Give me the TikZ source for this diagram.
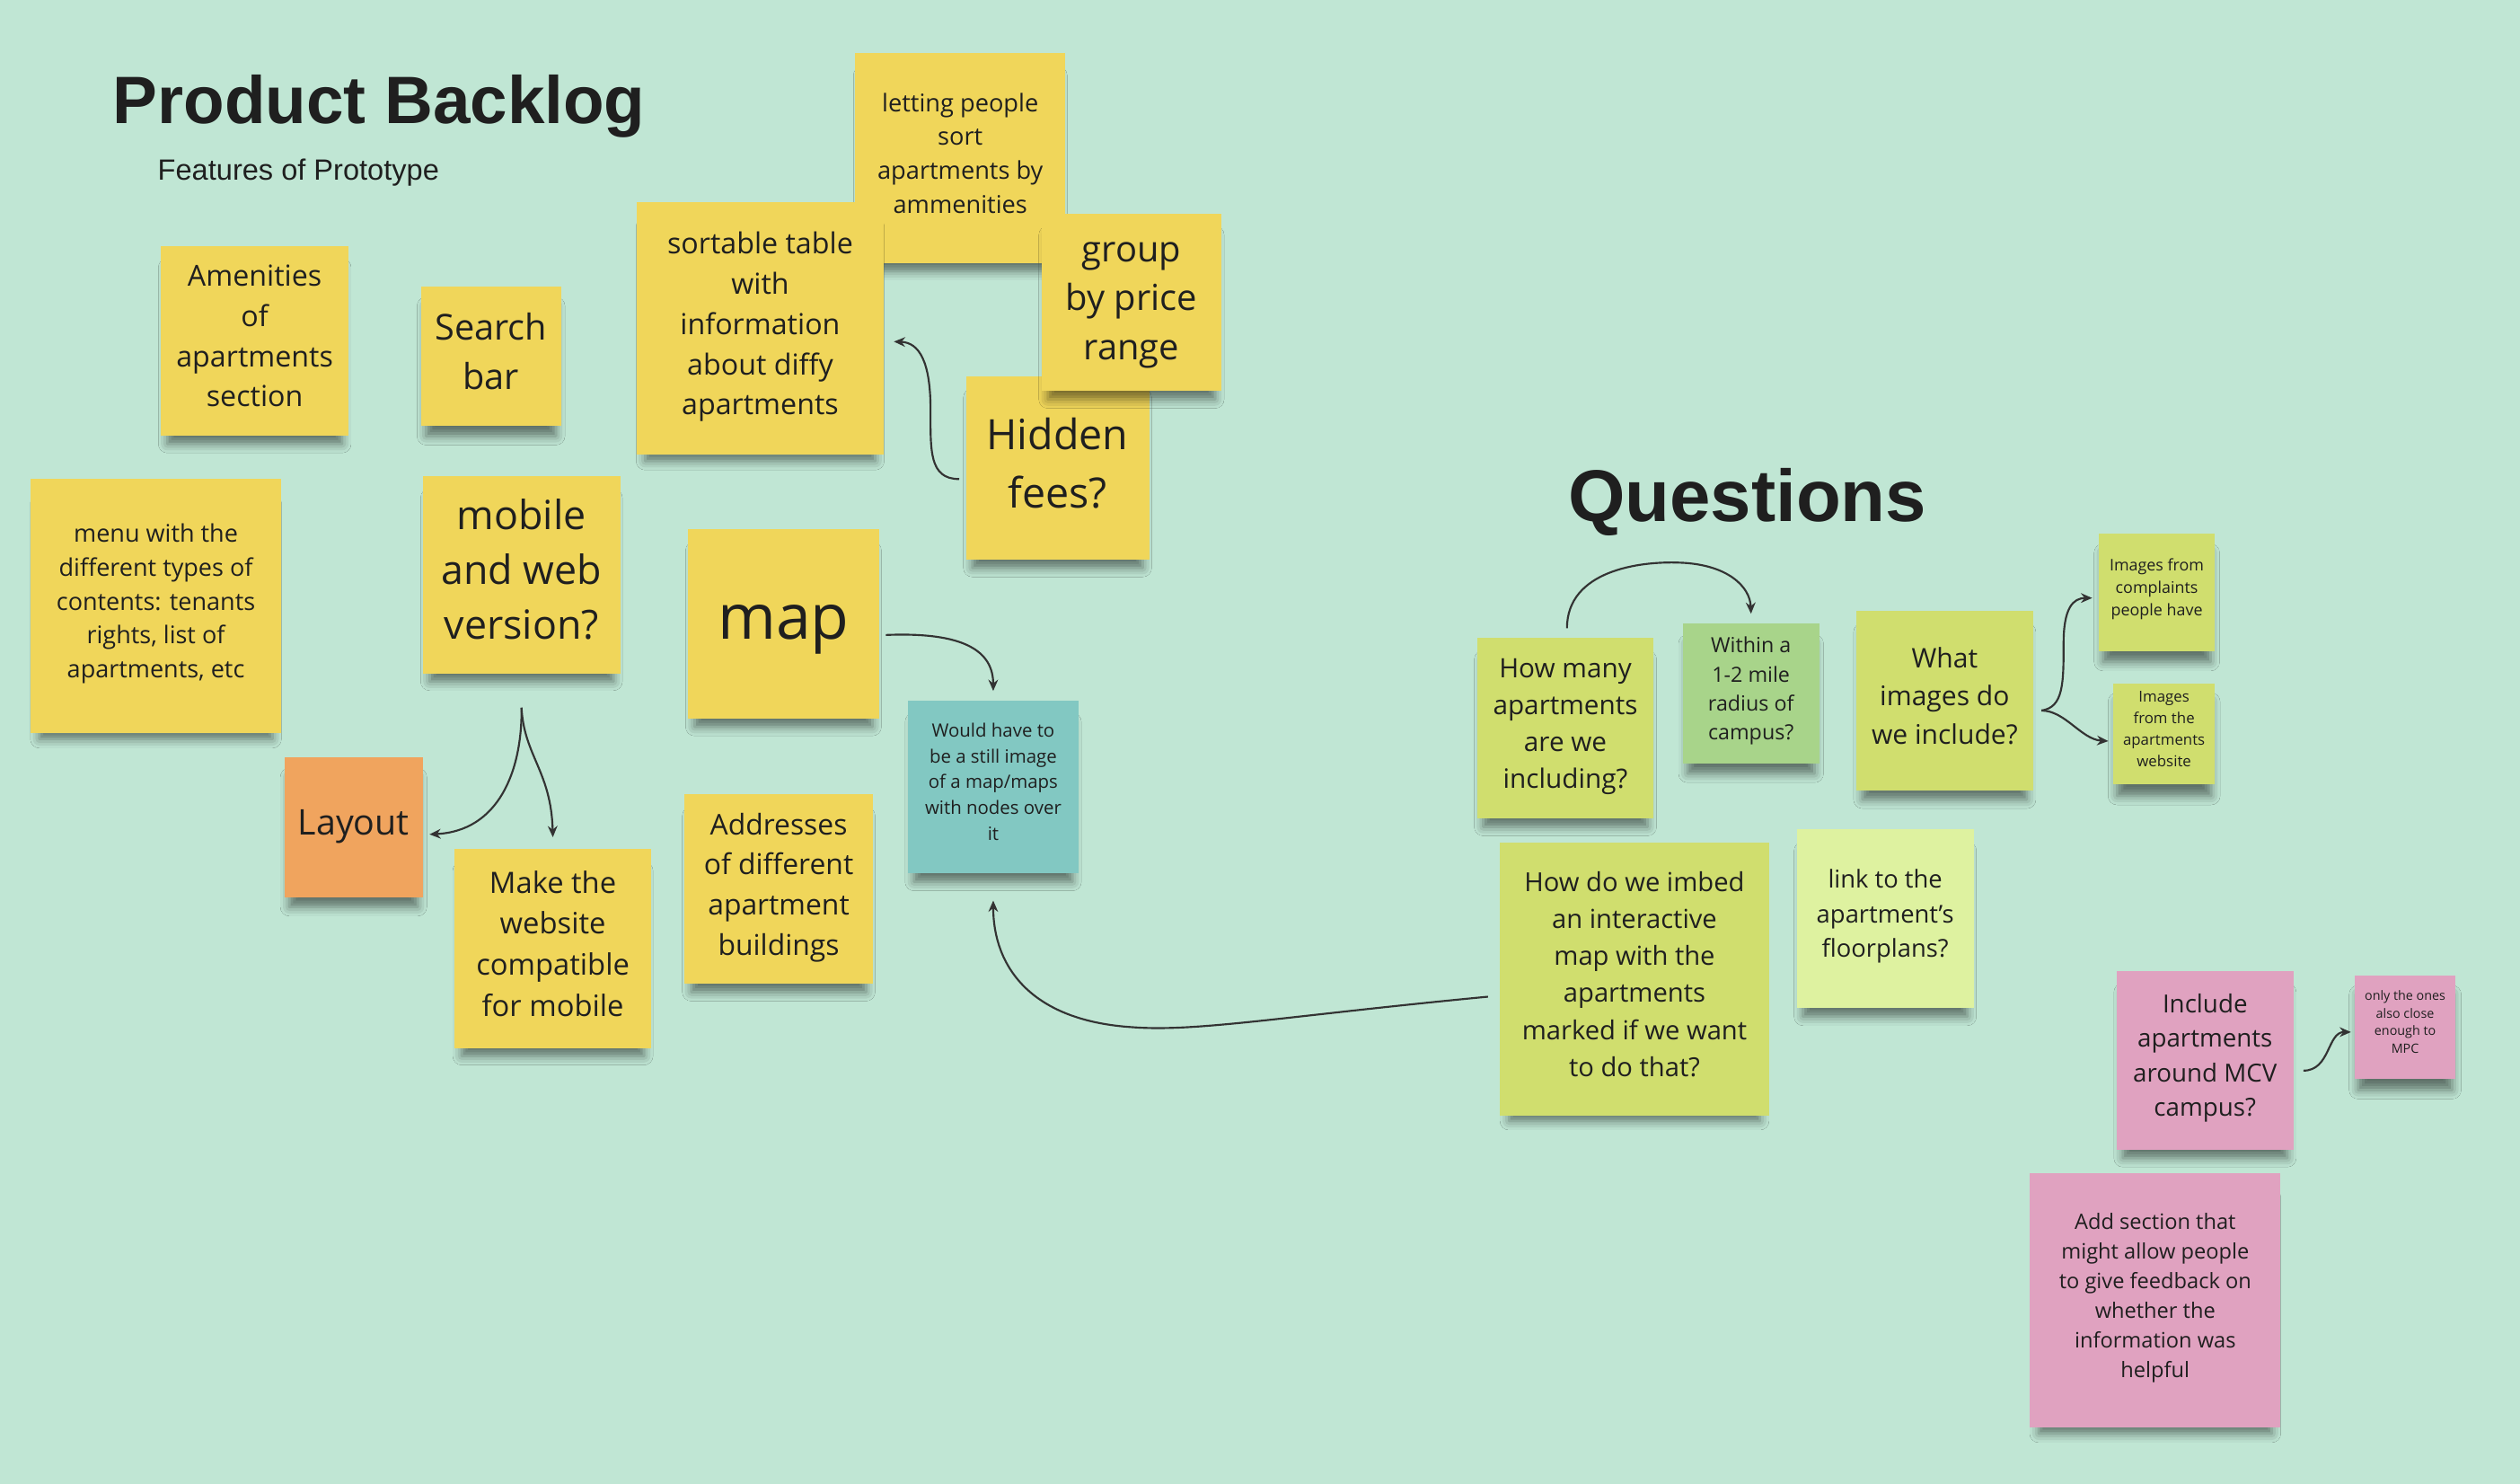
\documentclass[tikz,border=0pt]{standalone}
\usepackage{fontspec}
\setmainfont{Open Sans}
\newfontfamily\titlefont{Liberation Sans}
\usetikzlibrary{shadows.blur,arrows.meta,calc}
\definecolor{bg}{HTML}{C0E6D4}
\definecolor{ylw}{HTML}{F0D65A}
\definecolor{org}{HTML}{F0A45E}
\definecolor{teal}{HTML}{82C8C2}
\definecolor{lime}{HTML}{D0DE6E}
\definecolor{grn}{HTML}{A8D48A}
\definecolor{llime}{HTML}{DEF2A0}
\definecolor{pnk}{HTML}{E0A2C0}
\definecolor{txt}{HTML}{1F1F1F}
\definecolor{arr}{HTML}{333333}
\newcommand{\fsz}[2]{\fontsize{#1}{#2}\selectfont}
% struts giving each text block a uniform line box
\newcommand{\tS}{\rule{0pt}{0.785\baselineskip}}
\newcommand{\bS}{\rule[-\dimexpr0.215\baselineskip+7pt\relax]{0pt}{\dimexpr0.215\baselineskip+7pt\relax}}
\tikzset{
  note/.style={rectangle, inner sep=0pt, align=center, text=txt,
    blur shadow={shadow xshift=0pt, shadow yshift=-10pt, shadow opacity=50,
      shadow blur radius=6pt, shadow scale=0.93}},
  conn/.style={draw=arr, line width=1.2pt, -{Stealth[length=7pt,width=6pt]}}
}
\begin{document}
\begin{tikzpicture}[x=1pt,y=-1pt]
\fill[bg] (0,0) rectangle (1568,923);
\useasboundingbox (0,0) rectangle (1568,923);

% titles
\node[anchor=base west, inner sep=0pt, text=txt, font=\titlefont\bfseries\fsz{41.7}{48}] (ttl1) at (70,77) {Product Backlog};
\node[anchor=base west, inner sep=0pt, text=txt, font=\titlefont\fsz{18.2}{22}] (sub1) at (98,112) {Features of Prototype};
\node[anchor=base west, inner sep=0pt, text=txt, font=\titlefont\bfseries\fsz{45.6}{52}] (ttl2) at (975.5,324.5) {Questions};

% backlog notes
\node[note, fill=ylw, minimum width=131pt, minimum height=131pt, font=\fsz{15.2}{21}] (letting) at (597.5,98.5) {\tS letting people\\sort\\apartments by\\ammenities\bS};
\node[note, fill=ylw, minimum width=154pt, minimum height=157pt, font=\fsz{18}{25}] (sortable) at (473,204.5) {\tS sortable table\\with\\information\\about diffy\\apartments\bS};
\node[note, fill=ylw, minimum width=114pt, minimum height=114pt, font=\fsz{26}{36}] (hidden) at (658,291) {\tS Hidden\\fees?\bS};
\node[note, fill=ylw, minimum width=112pt, minimum height=110pt, font=\fsz{22.3}{30.5}] (group) at (704,188) {\tS group\\by price\\range\bS};
\node[note, fill=ylw, minimum width=117pt, minimum height=118pt, font=\fsz{18}{25}] (amen) at (158.5,212) {\tS Amenities\\of\\apartments\\section\bS};
\node[note, fill=ylw, minimum width=87pt, minimum height=87pt, font=\fsz{22.2}{31}] (search) at (305.5,221.5) {\tS Search\\bar\bS};
\node[note, fill=ylw, minimum width=156pt, minimum height=158pt, font=\fsz{15.1}{21}] (menu) at (97,377) {\tS menu with the\\different types of\\contents: tenants\\rights, list of\\apartments, etc\bS};
\node[note, fill=ylw, minimum width=123pt, minimum height=123pt, font=\fsz{25}{34}] (mobile) at (324.5,357.5) {\tS mobile\\and web\\version?\bS};
\node[note, fill=ylw, minimum width=119pt, minimum height=118pt, font=\fsz{39}{46}] (map) at (487.5,388) {\tS map\bS};
\node[note, fill=teal, minimum width=106pt, minimum height=107pt, font=\fsz{11.4}{16}] (still) at (618,489.5) {\tS Would have to\\be a still image\\of a map/maps\\with nodes over\\it\bS};
\node[note, fill=org, minimum width=86pt, minimum height=87pt, font=\fsz{22}{30}] (layout) at (220,514.5) {\tS Layout\bS};
\node[note, fill=ylw, minimum width=122pt, minimum height=124pt, font=\fsz{18.3}{25.5}] (make) at (344,590) {\tS Make the\\website\\compatible\\for mobile\bS};
\node[note, fill=ylw, minimum width=117pt, minimum height=118pt, font=\fsz{17.8}{25}] (addr) at (484.5,553) {\tS Addresses\\of different\\apartment\\buildings\bS};

% question notes
\node[note, fill=lime, minimum width=110pt, minimum height=112pt, font=\fsz{16.6}{23}] (howmany) at (974,453) {\tS How many\\apartments\\are we\\including?\bS};
\node[note, fill=grn, minimum width=85pt, minimum height=87pt, font=\fsz{13}{18}] (within) at (1089.5,431.5) {\tS Within a\\1-2 mile\\radius of\\campus?\bS};
\node[note, fill=lime, minimum width=110pt, minimum height=112pt, font=\fsz{16.8}{23.5}] (whatimg) at (1210,436) {\tS What\\images do\\we include?\bS};
\node[note, fill=lime, minimum width=72pt, minimum height=73pt, font=\fsz{10}{14}] (compl) at (1342,368.5) {\tS Images from\\complaints\\people have\bS};
\node[note, fill=lime, minimum width=63pt, minimum height=63pt, font=\fsz{9.4}{13.3}] (websi) at (1346.5,456.5) {\tS Images\\from the\\apartments\\website\bS};
\node[note, fill=lime, minimum width=168pt, minimum height=170pt, font=\fsz{16.3}{23}] (imbed) at (1017,609) {\tS How do we imbed\\an interactive\\map with the\\apartments\\marked if we want\\to do that?\bS};
\node[note, fill=llime, minimum width=110pt, minimum height=111pt, font=\fsz{15.3}{21.5}] (link) at (1173,571.5) {\tS link to the\\apartment's\\floorplans?\bS};
\node[note, fill=pnk, minimum width=110pt, minimum height=111pt, font=\fsz{15.5}{21.5}] (incl) at (1372,659.5) {\tS Include\\apartments\\around MCV\\campus?\bS};
\node[note, fill=pnk, minimum width=63pt, minimum height=64pt, font=\fsz{8}{11}] (only) at (1496.5,639) {\tS only the ones\\also close\\enough to\\MPC\bS};
\node[note, fill=pnk, minimum width=156pt, minimum height=158pt, font=\fsz{13.2}{18.5}] (addsec) at (1341,809) {\tS Add section that\\might allow people\\to give feedback on\\whether the\\information was\\helpful\bS};

% connectors
\draw[conn] ([xshift=-4pt,yshift=-7pt]hidden.west) .. controls (578,298) and (579,280) .. (579,255)
   .. controls (579,225) and (572,213) .. ([xshift=6pt,yshift=-8pt]sortable.east);
\draw[conn] ([xshift=4pt,yshift=-7pt]map.east) .. controls (600,393) and (618,405) .. ([yshift=6pt]still.north);
\coordinate (fork1) at ([yshift=-21pt]mobile.south);
\draw[conn] (fork1) .. controls (325,480) and (310,517) .. ([xshift=4pt,yshift=-4.5pt]layout.east);
\draw[conn] (fork1) .. controls (326,470) and (343,480) .. ([yshift=7pt]make.north);
\draw[conn] ([xshift=-7pt,yshift=-11pt]imbed.west) .. controls (800,632) and (745,642) .. (705,639)
   .. controls (640,635) and (618,600) .. ([yshift=-17pt]still.south);
\draw[conn] ([xshift=1pt,yshift=6pt]howmany.north) .. controls (975,355) and (1020,349) .. (1045,350)
   .. controls (1075,351) and (1089,365) .. ([yshift=6pt]within.north);
\coordinate (fork2) at ([xshift=5pt,yshift=-6pt]whatimg.east);
\draw[conn] (fork2) .. controls (1284,440) and (1284,425) .. (1284,400)
   .. controls (1284,378) and (1290,372) .. ([xshift=-4pt,yshift=-3.5pt]compl.west);
\draw[conn] (fork2) .. controls (1285,442) and (1295,460) .. ([xshift=-3pt,yshift=-4.5pt]websi.west);
\draw[conn] ([xshift=6pt,yshift=-6.5pt]incl.east) .. controls (1450,666) and (1448,642) .. ([xshift=-2pt,yshift=-3pt]only.west);
\end{tikzpicture}
\end{document}
